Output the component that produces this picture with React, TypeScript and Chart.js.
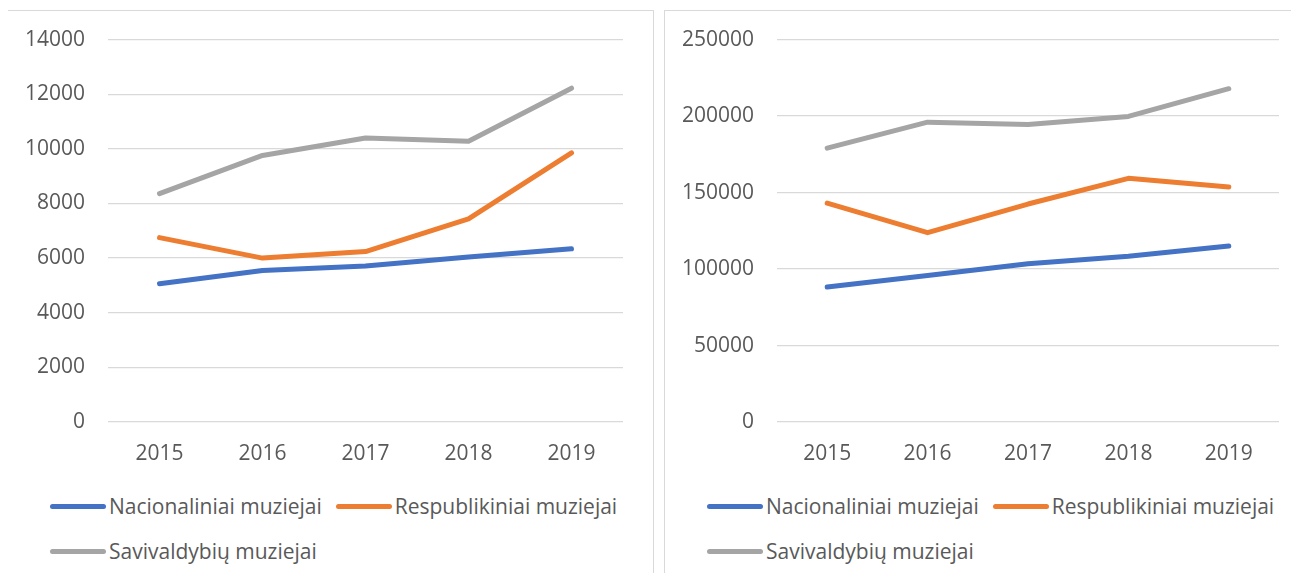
import React, { useEffect, useRef } from "react";
import { Chart, registerables } from "chart.js";

Chart.register(...registerables);

const years = ["2015", "2016", "2017", "2018", "2019"];
const seriesNames = ["Nacionaliniai muziejai", "Respublikiniai muziejai", "Savivaldybių muziejai"];
const seriesColors = ["#4472C4", "#ED7D31", "#A5A5A5"];

const nacionaliniaiLeft = [5060, 5550, 5710, 6040, 6340];
const respublikiniaiLeft = [6750, 6000, 6240, 7440, 9850];
const savivaldybiuLeft = [8360, 9760, 10400, 10280, 12220];

const nacionaliniaiRight = [88200, 95800, 103500, 108300, 115000];
const respublikiniaiRight = [143100, 123800, 142500, 159300, 153600];
const savivaldybiuRight = [179000, 196000, 194500, 199800, 217900];

const leftAxis = { max: 14000, step: 2000 };
const rightAxis = { max: 250000, step: 50000 };

const FONT = "'Open Sans', sans-serif";
const TEXT = "#595959";
const GRID = "#d9d9d9";

type LineChartProps = {
  series: number[][];
  max: number;
  step: number;
  width: number;
  height: number;
  yWidth: number;
  padRight: number;
};

function LineChart({ series, max, step, width, height, yWidth, padRight }: LineChartProps) {
  const ref = useRef<HTMLCanvasElement | null>(null);
  useEffect(() => {
    if (!ref.current) return;
    const chart = new Chart(ref.current, {
      type: "line",
      data: {
        labels: years,
        datasets: series.map((d, i) => ({
          label: seriesNames[i],
          data: d,
          borderColor: seriesColors[i],
          backgroundColor: seriesColors[i],
          borderWidth: 5,
          borderCapStyle: "round",
          borderJoinStyle: "round",
          pointRadius: 0,
          tension: 0,
          fill: false,
        })),
      },
      options: {
        animation: false,
        responsive: false,
        maintainAspectRatio: false,
        layout: { autoPadding: false, padding: { top: 35, right: padRight, left: 0, bottom: 0 } },
        plugins: { legend: { display: false }, tooltip: { enabled: false } },
        scales: {
          x: {
            type: "category",
            offset: true,
            grid: { display: false, drawTicks: false },
            border: { display: false },
            ticks: { color: TEXT, font: { family: FONT, size: 21 }, padding: 19, maxRotation: 0 },
            afterFit: (s: any) => {
              s.height = 49;
            },
          },
          y: {
            min: 0,
            max,
            grid: { color: GRID, lineWidth: 1.3, drawTicks: false },
            border: { display: false },
            ticks: {
              stepSize: step,
              color: TEXT,
              font: { family: FONT, size: 21 },
              padding: 23,
              callback: (v: any) => String(v),
            },
            afterFit: (s: any) => {
              s.width = yWidth;
            },
          },
        },
      },
    });
    return () => chart.destroy();
  }, []);
  return <canvas ref={ref} width={width} height={height} style={{ width, height, display: "block" }} />;
}

function Legend({ left }: { left: number }) {
  return (
    <div
      style={{
        position: "absolute",
        left,
        top: 492,
        width: 595,
        display: "flex",
        flexWrap: "wrap",
        rowGap: 17,
        fontFamily: FONT,
        fontSize: 21,
        color: TEXT,
        lineHeight: "28px",
      }}
    >
      {seriesNames.map((n, i) => (
        <div key={n} style={{ display: "flex", alignItems: "center", marginRight: 14, whiteSpace: "nowrap" }}>
          <span
            style={{
              display: "inline-block",
              width: 56,
              height: 5,
              borderRadius: 3,
              background: seriesColors[i],
              marginRight: 3,
            }}
          />
          <span>{n}</span>
        </div>
      ))}
    </div>
  );
}

export default function App() {
  return (
    <div style={{ position: "relative", width: 1299, height: 581, overflow: "hidden", margin: -8 }}>
      <div
        style={{
          position: "absolute",
          left: 7,
          top: 10,
          width: 647,
          height: 620,
          border: "1px solid #d9d9d9",
          boxSizing: "border-box",
        }}
      />
      <div
        style={{
          position: "absolute",
          left: 664,
          top: 10,
          width: 660,
          height: 620,
          border: "1px solid #d9d9d9",
          boxSizing: "border-box",
        }}
      />
      <div style={{ position: "absolute", left: 8, top: 4 }}>
        <LineChart
          series={[nacionaliniaiLeft, respublikiniaiLeft, savivaldybiuLeft]}
          max={leftAxis.max}
          step={leftAxis.step}
          width={645}
          height={467}
          yWidth={100}
          padRight={30}
        />
      </div>
      <div style={{ position: "absolute", left: 665, top: 4 }}>
        <LineChart
          series={[nacionaliniaiRight, respublikiniaiRight, savivaldybiuRight]}
          max={rightAxis.max}
          step={rightAxis.step}
          width={634}
          height={467}
          yWidth={112}
          padRight={20}
        />
      </div>
      <Legend left={50} />
      <Legend left={707} />
    </div>
  );
}
